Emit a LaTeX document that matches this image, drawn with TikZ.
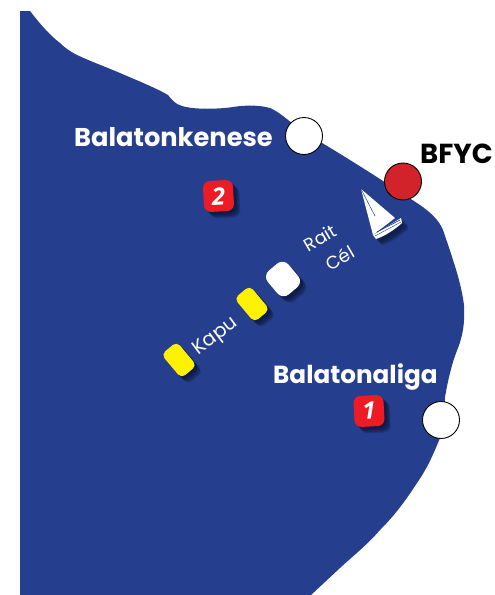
\documentclass[tikz,border=0pt]{standalone}
\usepackage{fontspec}
\setmainfont{Open Sans}
\newfontfamily\labelfont{Poppins}
\definecolor{lake}{HTML}{253F8E}
\definecolor{bfyc}{HTML}{D2232A}
\definecolor{numred}{HTML}{ED1C24}
\definecolor{buoy}{HTML}{FFF200}
\definecolor{shadowtone}{HTML}{0B1436}
\tikzset{
  x=1pt,y=-1pt,
  place/.style={circle,draw=black,line width=0.9pt,minimum size=37pt,inner sep=0pt,fill=white},
  placename/.style={font=\labelfont\bfseries\fontsize{#1}{#1}\selectfont,text=white,inner sep=0pt,anchor=base west},
  thin text/.style={font=\labelfont\fontsize{#1}{#1}\selectfont,text=white,inner sep=0pt},
  badge/.style={rounded corners=7pt,fill=numred,minimum width=30pt,minimum height=31pt,inner sep=0pt,
    font=\fontsize{24}{24}\selectfont\bfseries\itshape,text=white},
  markbuoy/.style={rounded corners=5pt,fill=buoy,minimum width=20pt,minimum height=31pt,inner sep=0pt},
  finishmark/.style={rounded corners=8pt,minimum width=27pt,minimum height=31pt,inner sep=0pt},
  softshadow/.style={fill=shadowtone,fill opacity=0.2,draw=none,text opacity=0},
}
\begin{document}
\begin{tikzpicture}
\useasboundingbox (0,0) rectangle (495,595);
\fill[white] (0,0) rectangle (495,595);
\fill[lake] (20,11) -- (30,11)
  .. controls (37,20) and (48,34) .. (60,43)
  .. controls (65,48) and (71,52) .. (77,55)
  .. controls (92,62) and (106,67) .. (120,73)
  .. controls (136,80) and (154,87) .. (168,95)
  .. controls (172,100) and (175,104) .. (182,106)
  .. controls (195,110) and (220,109) .. (233,107)
  .. controls (245,105) and (260,105) .. (270,108)
  .. controls (280,112) and (292,124) .. (305,133)
  .. controls (340,153) and (385,182) .. (420,205)
  .. controls (430,212) and (439,220) .. (443,230)
  .. controls (447,242) and (450,250) .. (453,260)
  .. controls (458,275) and (462,290) .. (464,305)
  .. controls (465,322) and (463,335) .. (458,348)
  .. controls (454,358) and (452,365) .. (450,373)
  .. controls (447,385) and (446,392) .. (445,397)
  .. controls (444,415) and (445,425) .. (440,438)
  .. controls (433,455) and (428,467) .. (417,483)
  .. controls (406,500) and (395,515) .. (380,530)
  .. controls (367,545) and (353,556) .. (340,568)
  -- (311,595)
  -- (20,595) -- cycle;
% soft shadows
\foreach \d in {8,7,6,5,4,3,2}{
  \node[markbuoy,softshadow,rotate=40] at ([shift={(\d*0.8,\d*0.8)}]179,360) {};
  \node[markbuoy,softshadow,rotate=40] at ([shift={(\d*0.8,\d*0.8)}]252,304) {};
  \node[finishmark,softshadow,rotate=40] at ([shift={(\d*0.8,\d*0.8)}]283,279) {};
  \node[badge,softshadow,rotate=3] at ([shift={(\d*0.8,\d*0.8)}]218.5,196) {};
  \node[badge,softshadow,rotate=3] at ([shift={(\d*0.8,\d*0.8)}]369,411) {};
  \fill[shadowtone,opacity=0.2,shift={(\d*0.8,\d*0.8)}] (401,218) -- (373,235) -- (376,239)
    .. controls (385,236) and (394,230) .. (402,223) -- cycle;
}
\node[markbuoy,rotate=40] (buoyA) at (179,360) {};
\node[markbuoy,rotate=40] (buoyB) at (252,304) {};
\node[finishmark,fill=white,rotate=40] (finish) at (283,279) {};
\node[badge,rotate=3] (two) at (218.5,196) {2};
\node[badge,rotate=3] (one) at (369,411) {1};
% yacht
\fill[white] (361,189) -- (395,218) -- (373,235) -- cycle;
\draw[lake,line width=0.5pt] (361,189) -- (375,216);
\fill[white] (373,235) -- (401,218) -- (402,223)
  .. controls (394,230) and (385,236) .. (376,239) -- cycle;
\draw[lake,line width=0.7pt] (377,232) -- (400,220);
\draw[lake,line width=0.4pt] (375,236) -- (401,222);
% places
\node[place] (kenese) at (304,136) {};
\node[place] (aliga) at (441,420) {};
\node[place,fill=bfyc] (club) at (403,181.5) {};
\node[placename=25.7] (kname) at (74,146) {Balatonkenese};
\node[placename=24.7] (aname) at (273,383) {Balatonaliga};
\node[placename=27.5,text=black] (cname) at (420,163) {BFYC};
\node[thin text=18,rotate=30] (rait) at (320,238) {Rait};
\node[thin text=18,rotate=30] (cel) at (340,258) {Cél};
\node[thin text=19.5,rotate=37] (kapu) at (216,337) {Kapu};
\end{tikzpicture}
\end{document}
